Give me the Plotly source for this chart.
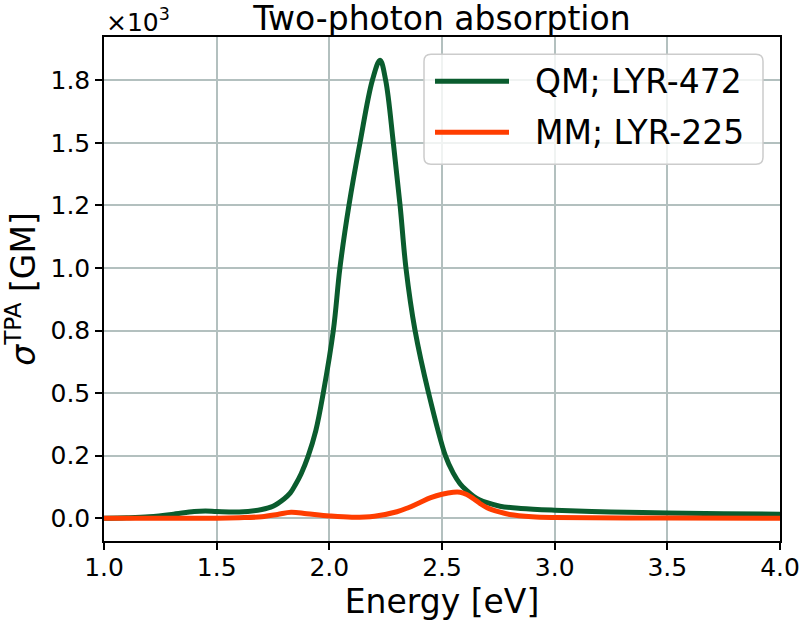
import plotly.graph_objects as go

# ---- data ----
qm_energy = [1.0, 1.1, 1.2, 1.3, 1.4, 1.45, 1.5, 1.6, 1.7, 1.75, 1.80, 1.826, 1.85, 1.875, 1.906,
             1.94, 1.973, 2.018, 2.047, 2.087, 2.136, 2.191, 2.225, 2.250, 2.284, 2.314, 2.340,
             2.380, 2.44, 2.515, 2.55, 2.58, 2.61, 2.64, 2.668, 2.70, 2.757, 2.85, 3.0, 3.25,
             3.5, 3.75, 4.0]
qm_sigma = [0, 2, 6, 15, 27, 29, 27, 25, 35, 48, 78, 100, 135, 178, 248,
            350, 500, 752, 1000, 1250, 1500, 1750, 1830, 1750, 1500, 1250, 1000,
            752, 502, 250, 180, 138, 110, 88, 73, 62, 48, 39, 32, 25,
            21, 18, 16]

mm_energy = [1.0, 1.3, 1.5, 1.6, 1.7, 1.77, 1.83, 1.9, 2.0, 2.1, 2.2, 2.3, 2.35, 2.4, 2.45,
             2.5, 2.55, 2.58, 2.61, 2.64, 2.67, 2.7, 2.75, 2.8, 2.9, 3.0, 3.5, 4.0]
mm_sigma = [0, 0, 0, 2, 6, 15, 24, 18, 9, 4, 8, 26, 42, 62, 82,
            96, 104, 104, 95, 78, 58, 42, 26, 15, 6, 3, 1, 0]

series_names = ["QM; LYR-472", "MM; LYR-225"]
series_colors = ["#0a5c2e", "#ff3d00"]

x_ticks = [1.0, 1.5, 2.0, 2.5, 3.0, 3.5, 4.0]
y_ticks = [0, 250, 500, 750, 1000, 1250, 1500, 1750]
y_tick_labels = ["0.0", "0.2", "0.5", "0.8", "1.0", "1.2", "1.5", "1.8"]

FONT = "DejaVu Sans"
GRID = "#b3c0bf"

fig = go.Figure()
for xs, ys, name, col in [(qm_energy, qm_sigma, series_names[0], series_colors[0]),
                          (mm_energy, mm_sigma, series_names[1], series_colors[1])]:
    fig.add_trace(go.Scatter(x=xs, y=ys, mode="lines", name=name,
                             line=dict(color=col, width=5, shape="spline", smoothing=1.0),
                             showlegend=False))

fig.update_layout(
    width=800, height=621,
    margin=dict(l=104, r=20, t=37, b=80, autoexpand=False),
    paper_bgcolor="white", plot_bgcolor="white",
    font=dict(family=FONT, color="black"),
    title=dict(text="Two-photon absorption", x=(104 + 780) / 2 / 800, xanchor="center",
               y=1 - 18 / 621, yanchor="middle", yref="container",
               font=dict(size=33, family=FONT, color="black")),
)
fig.update_xaxes(range=[1.0, 4.0], tickvals=x_ticks, tickformat=".1f",
                 ticklabeloverflow="allow", automargin=False, ticklabelstandoff=-4,
                 showline=True, linecolor="black", linewidth=1.5, mirror=True,
                 ticks="outside", ticklen=7, tickwidth=1.5, tickcolor="black",
                 tickfont=dict(size=25, family=FONT, color="black"),
                 showgrid=True, gridcolor=GRID, gridwidth=1.5, zeroline=False,
                 title=dict(text="Energy [eV]", font=dict(size=33, family=FONT, color="black"),
                            standoff=10))
fig.update_yaxes(range=[-91, 1923], tickvals=y_ticks, ticktext=y_tick_labels,
                 automargin=False,
                 showline=True, linecolor="black", linewidth=1.5, mirror=True,
                 ticks="outside", ticklen=7, tickwidth=1.5, tickcolor="black",
                 tickfont=dict(size=25, family=FONT, color="black"),
                 showgrid=True, gridcolor=GRID, gridwidth=1.5, zeroline=False,
                 title=dict(text="<i>σ</i><sup>TPA</sup> [GM]",
                            font=dict(size=33, family=FONT, color="black"), standoff=14))

# multiplier label
fig.add_annotation(text="×10<sup>3</sup>", xref="paper", yref="paper", x=0.0, y=1.0,
                   xanchor="left", yanchor="bottom", showarrow=False, yshift=-2,
                   font=dict(size=25, family=FONT, color="black"))

# legend box (matplotlib-style, rounded, semi-transparent)
W, H = 676.0, 504.3
def px(xp):
    return (xp - 104) / W
def py(yp):
    return (541 - yp) / H
x0, x1, y0, y1 = px(424), px(763), py(164), py(54)
rx, ry = 7 / W, 7 / H
path = (f"M {x0+rx},{y0} L {x1-rx},{y0} Q {x1},{y0} {x1},{y0+ry} "
        f"L {x1},{y1-ry} Q {x1},{y1} {x1-rx},{y1} L {x0+rx},{y1} "
        f"Q {x0},{y1} {x0},{y1-ry} L {x0},{y0+ry} Q {x0},{y0} {x0+rx},{y0} Z")
fig.add_shape(type="path", path=path, xref="paper", yref="paper", layer="above",
              fillcolor="rgba(255,255,255,0.8)", line=dict(color="#cccccc", width=1.5))
for i, (name, col) in enumerate(zip(series_names, series_colors)):
    yy = py(81 + i * 51)
    fig.add_shape(type="line", xref="paper", yref="paper", layer="above",
                  x0=px(435), x1=px(509), y0=yy, y1=yy, line=dict(color=col, width=5))
    fig.add_annotation(text=name, xref="paper", yref="paper", x=px(533), y=yy,
                       xanchor="left", yanchor="middle", showarrow=False,
                       font=dict(size=33, family=FONT, color="black"))

fig.write_html("out.html")
